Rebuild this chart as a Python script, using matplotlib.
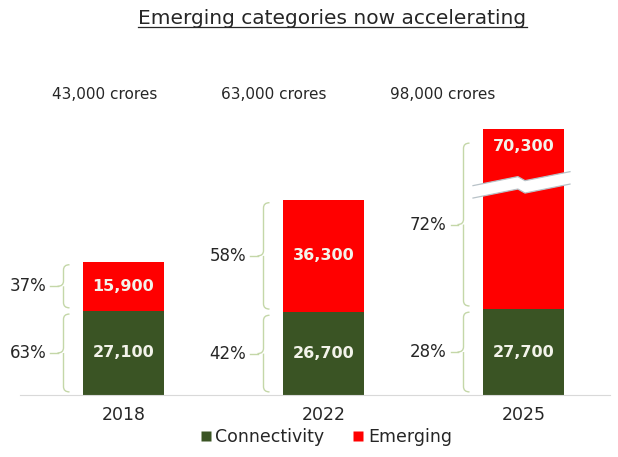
import numpy as np
import matplotlib
matplotlib.use("Agg")
import matplotlib.pyplot as plt
from matplotlib.path import Path
from matplotlib.patches import PathPatch, Polygon
from matplotlib.lines import Line2D

plt.rcParams['font.family'] = ['DejaVu Sans']

# data
years = ['2018', '2022', '2025']
connectivity = [27100, 26700, 27700]
emerging = [15900, 36300, 70300]
conn_pct = ['63%', '42%', '28%']
emerg_pct = ['37%', '58%', '72%']

GREEN = '#3a5424'
RED = '#ff0000'
BRACE = '#c4d7a8'
TXT = '#262626'

# the 2025 emerging bar is drawn broken at this height
break_at = 58000
emerging_shown = np.minimum(emerging, break_at)
totals = np.array(connectivity) + np.array(emerging)

fig = plt.figure(figsize=(6.18, 4.57), dpi=100)
ax = fig.add_axes([20 / 618, 62 / 457, 590 / 618, 335 / 457])
x = np.arange(len(years))
w = 0.405

ax.bar(x, connectivity, width=w, color=GREEN, zorder=2)
ax.bar(x, emerging_shown, width=w, bottom=connectivity, color=RED, zorder=2)

ax.set_xlim(-0.5175, 2.4325)
ax.set_ylim(0, 108000)
ax.set_yticks([])
ax.set_xticks(x)
ax.set_xticklabels(years, fontsize=12.5, color=TXT)
ax.tick_params(axis='x', length=0, pad=8)
for s in ['top', 'left', 'right']:
    ax.spines[s].set_visible(False)
ax.spines['bottom'].set_color('#d9d9d9')

# value labels inside segments
for i in range(len(years)):
    c = connectivity[i]
    ax.text(i, c / 2, f'{c:,}', ha='center', va='center', color='#f3f3ea',
            fontsize=11.5, fontweight='bold', zorder=4)
    e_top = c + emerging_shown[i]
    if emerging[i] > break_at:
        ey = e_top - 5500
    else:
        ey = c + emerging_shown[i] / 2
    ax.text(i, ey, f'{emerging[i]:,}', ha='center', va='center', color='#f3f3ea',
            fontsize=11.5, fontweight='bold', zorder=4)

# break marker on the broken bar
for i in range(len(years)):
    if emerging[i] > break_at:
        yb = 67500
        dx = np.array([-0.2525, -0.028, 0.0075, 0.2325])
        dy = np.array([0, 2900, 1600, 4500])
        upper = np.column_stack([i + dx, yb + dy])
        lower = np.column_stack([i + dx, yb + dy - 4000])
        band = np.vstack([upper, lower[::-1]])
        ax.add_patch(Polygon(band, closed=True, facecolor='white', edgecolor='none', zorder=3))
        ax.plot(upper[:, 0], upper[:, 1], color='#b8c2c8', lw=0.9, zorder=3)
        ax.plot(lower[:, 0], lower[:, 1], color='#b8c2c8', lw=0.9, zorder=3)


def brace(xb, y0, y1, cw=0.03, r=1700, tip=0.035):
    ym = (y0 + y1) / 2
    verts = [(xb + cw, y1), (xb, y1), (xb, y1 - r), (xb, ym + r),
             (xb, ym), (xb - cw, ym),
             (xb, ym), (xb, ym - r), (xb, y0 + r),
             (xb, y0), (xb + cw, y0)]
    codes = [Path.MOVETO, Path.CURVE3, Path.CURVE3, Path.LINETO,
             Path.CURVE3, Path.CURVE3,
             Path.MOVETO, Path.CURVE3, Path.LINETO,
             Path.CURVE3, Path.CURVE3]
    ax.add_patch(PathPatch(Path(verts, codes), facecolor='none', edgecolor=BRACE,
                           lw=1.0, zorder=2))
    ax.plot([xb - cw, xb - cw - tip], [ym, ym], color=BRACE, lw=1.0, zorder=2)
    return ym


gap = 1000
for i in range(len(years)):
    xb = i - 0.30
    c = connectivity[i]
    top = c + emerging_shown[i]
    ym = brace(xb, gap, c - gap)
    ax.text(xb - 0.085, ym, conn_pct[i], ha='right', va='center', fontsize=12, color=TXT)
    top_gap = 4500 if emerging[i] > break_at else gap
    ym = brace(xb, c + gap, top - top_gap)
    ax.text(xb - 0.085, ym, emerg_pct[i], ha='right', va='center', fontsize=12, color=TXT)

# totals above bars
total_shift = [-0.0925, -0.25, -0.4025]
for i in range(len(years)):
    ax.text(i + total_shift[i], 97000, f'{totals[i]:,} crores', ha='center', va='center',
            fontsize=11, color=TXT)

# title with underline
t = fig.text(0.538, 0.96, 'Emerging categories now accelerating', ha='center', va='center',
             fontsize=14.5, color=TXT)
fig.canvas.draw()
bb = t.get_window_extent().transformed(fig.transFigure.inverted())
fig.add_artist(Line2D([bb.x0, bb.x1], [bb.y0 + 0.001, bb.y0 + 0.001], color=TXT, lw=0.9,
                      transform=fig.transFigure))

handles = [Line2D([], [], marker='s', color='none', markerfacecolor=GREEN, markeredgecolor='none',
                  markersize=7, label='Connectivity'),
           Line2D([], [], marker='s', color='none', markerfacecolor=RED, markeredgecolor='none',
                  markersize=7, label='Emerging')]
fig.legend(handles=handles, loc='center', bbox_to_anchor=(0.527, 0.044), ncol=2, frameon=False,
           fontsize=12.5, handlelength=0.7, handletextpad=0.2, columnspacing=1.6,
           labelcolor=TXT)

fig.savefig('out.png', dpi=100)
